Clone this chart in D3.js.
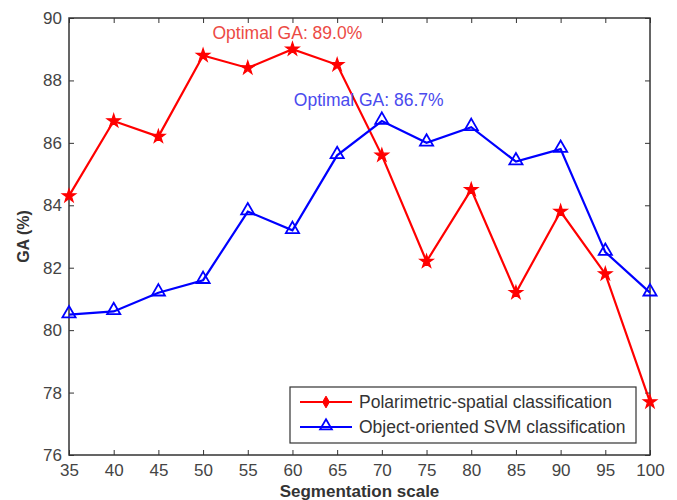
<!doctype html>
<html>
<head>
    <meta charset="utf-8">
    <script src="https://d3js.org/d3.v7.min.js"></script>
    <style>
        body { margin: 0; background: #fff; }
        svg { display: block; font-family: Arial, "Liberation Sans", sans-serif; }
    </style>
</head>
<body>
<svg id="chart" width="677" height="500"></svg>
<script>
    // segmentation scales (x) and GA values
    var scales = [35, 40, 45, 50, 55, 60, 65, 70, 75, 80, 85, 90, 95, 100];
    var polarSpatial = [84.3, 86.7, 86.2, 88.8, 88.4, 89.0, 88.5, 85.6, 82.2, 84.5, 81.2, 83.8, 81.8, 77.7];
    var objectSVM = [80.5, 80.6, 81.2, 81.6, 83.8, 83.2, 85.6, 86.7, 86.0, 86.5, 85.4, 85.8, 82.5, 81.2];
    var yTicks = [76, 78, 80, 82, 84, 86, 88, 90];
    var seriesNames = ["Polarimetric-spatial classification", "Object-oriented SVM classification"];
    var notes = [
        { text: "Optimal GA: 89.0%", x: 60, y: 89.0 },
        { text: "Optimal GA: 86.7%", x: 70, y: 86.7 }
    ];

    var padL = 69, padR = 650, padT = 18, padB = 455;
    var svg = d3.select("#chart");

    var x = d3.scaleLinear().domain([35, 100]).range([padL, padR]);
    var y = d3.scaleLinear().domain([76, 90]).range([padB, padT]);

    // axes with inward ticks (matlab style)
    var tickLen = 5;
    svg.append("g")
        .attr("transform", "translate(0," + padB + ")")
        .call(d3.axisBottom(x).tickValues(scales).tickSize(-tickLen).tickPadding(10))
        .call(g => g.select(".domain").remove())
        .call(g => g.selectAll(".tick line").attr("stroke", "#333"))
        .call(g => g.selectAll(".tick text").attr("fill", "#444").style("font-size", "17px").attr("dy", "0.65em"));

    svg.append("g")
        .attr("transform", "translate(" + padL + ",0)")
        .call(d3.axisLeft(y).tickValues(yTicks).tickSize(-tickLen).tickPadding(7))
        .call(g => g.select(".domain").remove())
        .call(g => g.selectAll(".tick line").attr("stroke", "#333"))
        .call(g => g.selectAll(".tick text").attr("fill", "#444").style("font-size", "17px"));

    svg.append("g")
        .attr("transform", "translate(0," + padT + ")")
        .call(d3.axisTop(x).tickValues(scales).tickSize(-tickLen).tickFormat(""))
        .call(g => g.select(".domain").remove())
        .call(g => g.selectAll(".tick line").attr("stroke", "#333"));

    svg.append("g")
        .attr("transform", "translate(" + padR + ",0)")
        .call(d3.axisRight(y).tickValues(yTicks).tickSize(-tickLen).tickFormat(""))
        .call(g => g.select(".domain").remove())
        .call(g => g.selectAll(".tick line").attr("stroke", "#333"));

    svg.append("rect")
        .attr("x", padL).attr("y", padT)
        .attr("width", padR - padL).attr("height", padB - padT)
        .attr("fill", "none").attr("stroke", "#333").attr("stroke-width", 1.5);

    // axis titles
    svg.append("text")
        .attr("x", (padL + padR) / 2).attr("y", 497)
        .attr("text-anchor", "middle")
        .style("font-size", "17px").style("font-weight", "bold").attr("fill", "#333")
        .text("Segmentation scale");

    svg.append("text")
        .attr("transform", "translate(29," + (padT + padB) / 2 + ") rotate(-90)")
        .attr("text-anchor", "middle")
        .style("font-size", "16px").style("font-weight", "bold").attr("fill", "#333")
        .text("GA (%)");

    var line = d3.line()
        .x((d, i) => x(scales[i]))
        .y(d => y(d));

    var star = d3.symbol().type(d3.symbolStar).size(55);
    var tri = d3.symbol().type(d3.symbolTriangle).size(75);

    // red series
    svg.append("path")
        .datum(polarSpatial)
        .attr("d", line)
        .attr("fill", "none").attr("stroke", "#ff0000").attr("stroke-width", 2.2);
    svg.append("g").selectAll("path")
        .data(polarSpatial)
        .enter().append("path")
        .attr("transform", (d, i) => "translate(" + x(scales[i]) + "," + y(d) + ")")
        .attr("d", star)
        .attr("fill", "#ff0000").attr("stroke", "#ff0000").attr("stroke-width", 1.2);

    // blue series
    svg.append("path")
        .datum(objectSVM)
        .attr("d", line)
        .attr("fill", "none").attr("stroke", "#0000ff").attr("stroke-width", 2.2);
    svg.append("g").selectAll("path")
        .data(objectSVM)
        .enter().append("path")
        .attr("transform", (d, i) => "translate(" + x(scales[i]) + "," + (y(d) - 1) + ")")
        .attr("d", tri)
        .attr("fill", "none").attr("stroke", "#0000ff").attr("stroke-width", 1.8);

    // annotations
    svg.append("text")
        .attr("x", x(notes[0].x) - 80).attr("y", y(notes[0].y) - 10)
        .style("font-size", "17.5px").attr("fill", "#ec4a44")
        .text(notes[0].text);
    svg.append("text")
        .attr("x", x(notes[1].x) - 88).attr("y", y(notes[1].y) - 15)
        .style("font-size", "17.5px").attr("fill", "#4a4aee")
        .text(notes[1].text);

    // legend
    var lg = svg.append("g").attr("transform", "translate(290,387)");
    lg.append("rect")
        .attr("width", 346).attr("height", 56)
        .attr("fill", "#fff").attr("stroke", "#333").attr("stroke-width", 1.2);
    var colors = ["#ff0000", "#0000ff"];
    var syms = [d3.symbol().type(d3.symbolDiamond).size(40), d3.symbol().type(d3.symbolTriangle).size(60)];
    seriesNames.forEach(function (name, i) {
        var yy = 15 + i * 25;
        lg.append("line")
            .attr("x1", 10).attr("x2", 62).attr("y1", yy).attr("y2", yy)
            .attr("stroke", colors[i]).attr("stroke-width", 2.2);
        lg.append("path")
            .attr("transform", "translate(36," + (yy - (i ? 1 : 0)) + ")")
            .attr("d", syms[i])
            .attr("fill", i ? "none" : colors[i])
            .attr("stroke", colors[i]).attr("stroke-width", i ? 1.8 : 1);
        lg.append("text")
            .attr("x", 69).attr("y", yy + 6)
            .style("font-size", "17.5px").attr("fill", "#333")
            .text(name);
    });
</script>
</body>
</html>
